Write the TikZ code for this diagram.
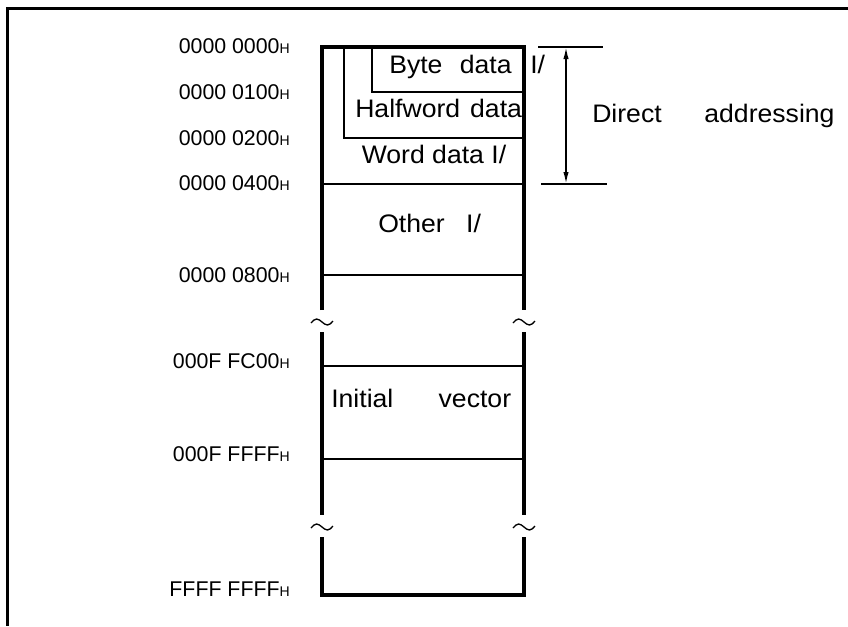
\documentclass[tikz,border=0pt]{standalone}
\usepackage{fontspec}
\setmainfont{Liberation Sans}
\newfontfamily\widefont[FakeStretch=1.05]{Liberation Sans}
\usetikzlibrary{arrows.meta}
\newcommand{\hsuf}{{\fontsize{10.5}{12}\selectfont H}}
\begin{document}
\begin{tikzpicture}[
  x=0.75pt, y=-0.75pt,
  frame/.style={line width=1.9pt},
  mem/.style={line width=2.6pt, line join=miter},
  part/.style={line width=1.9pt},
  addr/.style={anchor=base east, inner sep=0pt, font=\fontsize{16}{19}\selectfont},
  area/.style={anchor=base, inner sep=0pt, font=\widefont\fontsize{19}{22}\selectfont},
  >={Latex[length=9pt,width=4pt]}
]
  \useasboundingbox (0,0) rectangle (848,626);
  % Outer frame
  \draw[frame] (848,8.5) -- (7.5,8.5) -- (7.5,626);
  % Memory map
  \draw[mem] (322,310) -- (322,47) -- (524,47) -- (524,310);
  \draw[mem] (322,332) -- (322,515);
  \draw[mem] (524,332) -- (524,515);
  \draw[mem] (322,537) -- (322,595) -- (524,595) -- (524,537);
  \foreach \y in {184,275,366,459} {
    \draw[part] (322,\y) -- (524,\y);
  }
  \draw[part] (344,47) -- (344,138) -- (524,138);
  \draw[part] (372,47) -- (372,92) -- (524,92);
  % Break marks
  \foreach \x in {322,524} {
    \foreach \y in {322,527} {
      \draw[line width=1pt] (\x-11,\y+1) sin (\x-5.5,\y-3) cos (\x,\y) sin (\x+5.5,\y+3) cos (\x+11,\y-1);
    }
  }
  % Addresses
  \foreach \y/\t [count=\i] in {53/0000 0000, 99/0000 0100, 145/0000 0200, 190/0000 0400,
      282/0000 0800, 368/000F FC00, 461/000F FFFF, 596/FFFF FFFF} {
    \node[addr] (addr\i) at (290,\y) {\t\hsuf};
  }
  % Areas
  \node[area, anchor=base west] (byte) at (389,73) {Byte\hspace{13pt}data};
  \node[area, anchor=base west] (byteio) at (530,73) {I/};
  \node[area, anchor=base west] (half) at (355,117) {Halfword\hspace{7.5pt}data};
  \node[area] (word) at (434,163) {Word data I/};
  \node[area, anchor=base west] (other) at (378,232) {Other\hspace{16pt}I/};
  \node[area, anchor=base west] (ivec) at (331,407) {Initial\hspace{34pt}vector};
  % Direct addressing range
  \coordinate (dtop) at (566,47);
  \coordinate (dbot) at (566,184);
  \draw[part] (538,47) -- (603,47);
  \draw[part] (541,184) -- (607,184);
  \draw[<->, line width=1.2pt] (dtop) -- (dbot);
  \node[area, anchor=base west] (direct) at (592,122) {Direct\hspace{32pt}addressing};
\end{tikzpicture}
\end{document}
